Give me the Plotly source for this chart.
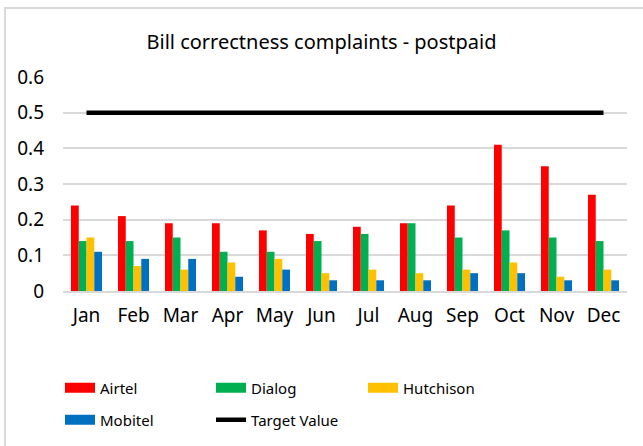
import plotly.graph_objects as go

months = ["Jan", "Feb", "Mar", "Apr", "May", "Jun", "Jul", "Aug", "Sep", "Oct", "Nov", "Dec"]
airtel = [0.24, 0.21, 0.19, 0.19, 0.17, 0.16, 0.18, 0.19, 0.24, 0.41, 0.35, 0.27]
dialog = [0.14, 0.14, 0.15, 0.11, 0.11, 0.14, 0.16, 0.19, 0.15, 0.17, 0.15, 0.14]
hutchison = [0.15, 0.07, 0.06, 0.08, 0.09, 0.05, 0.06, 0.05, 0.06, 0.08, 0.04, 0.06]
mobitel = [0.11, 0.09, 0.09, 0.04, 0.06, 0.03, 0.03, 0.03, 0.05, 0.05, 0.03, 0.03]
target = [0.5] * 12

series = [
    ("Airtel", airtel, "#ff0000", "legend"),
    ("Dialog", dialog, "#00b050", "legend2"),
    ("Hutchison", hutchison, "#ffc000", "legend3"),
    ("Mobitel", mobitel, "#0070c0", "legend4"),
]

FONT = "Noto Sans"
fig = go.Figure()
for name, vals, col, lg in series:
    fig.add_trace(go.Bar(x=months, y=vals, name=name, marker=dict(color=col, line=dict(width=0)),
                         showlegend=False, legendgroup=name))
for name, vals, col, lg in series:
    fig.add_trace(go.Scatter(x=[None], y=[None], mode="lines", name=name, legendgroup=name,
                             legend=lg, line=dict(color=col, width=10)))
fig.add_trace(go.Scatter(x=months, y=target, mode="lines", name="Target Value", legend="legend5",
                         line=dict(color="black", width=4.5)))

W, H = 643, 446
L, R, T, B = 63, 16, 77, 155
pw, ph = W - L - R, H - T - B

def px(x):
    return (x - L) / pw

def py(y):
    return (H - B - y) / ph

fig.add_shape(type="rect", xref="paper", yref="paper",
              x0=px(5), x1=px(700), y0=py(8), y1=py(600),
              line=dict(color="#d9d9d9", width=2), fillcolor="rgba(0,0,0,0)", layer="below")

def leg(x, y):
    return dict(orientation="h", xanchor="left", yanchor="middle", x=px(x), y=py(y),
                font=dict(size=15), itemwidth=30, bgcolor="rgba(0,0,0,0)")

fig.update_layout(
    width=W, height=H,
    margin=dict(l=L, r=R, t=T, b=B, autoexpand=False),
    paper_bgcolor="white", plot_bgcolor="white",
    font=dict(family=FONT, size=18, color="#000000"),
    title=dict(text="Bill correctness complaints - postpaid", x=0.5, xref="container", xanchor="center",
               y=1 - 42 / H, yanchor="middle", font=dict(size=20, color="#000000")),
    barmode="group", bargap=0.34, bargroupgap=0,
    xaxis=dict(showgrid=False, showline=True, linecolor="#d9d9d9", linewidth=2, ticks="",
               tickfont=dict(size=19), ticklabelstandoff=6),
    yaxis=dict(range=[0, 0.6], dtick=0.1, showgrid=True, gridcolor="#d9d9d9", gridwidth=1.5,
               zeroline=False, showline=False, ticks="", tickfont=dict(size=19),
               ticklabelstandoff=18),
    legend=leg(60, 388),
    legend2=leg(211, 388),
    legend3=leg(363, 388),
    legend4=leg(60, 420),
    legend5=leg(211, 420),
)

fig.write_html("out.html", config={"displayModeBar": False},
               post_script="document.body.style.margin='0';")
